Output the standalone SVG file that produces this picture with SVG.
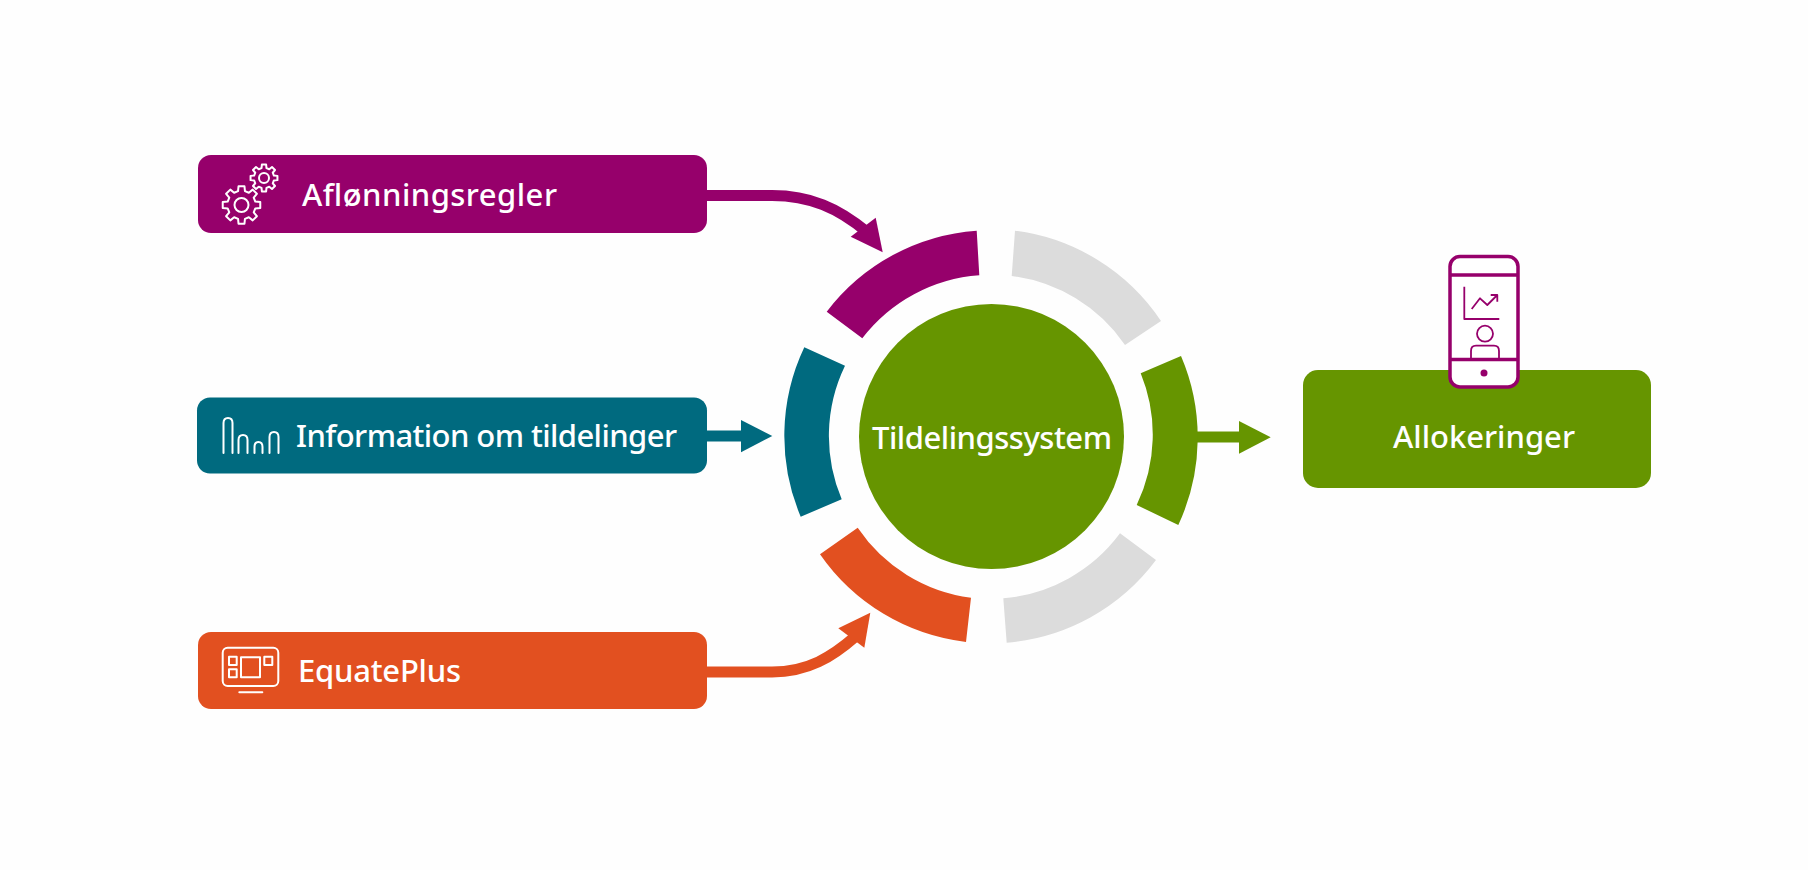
<svg xmlns="http://www.w3.org/2000/svg" width="1808" height="870" viewBox="0 0 1808 870">
<style>
.lbl{font-family:"Noto Sans","Open Sans","Liberation Sans",sans-serif;font-size:31px;font-weight:500;fill:#fff}
.ico{fill:none;stroke:#fff;stroke-width:2;stroke-linejoin:round;stroke-linecap:round}
.gear{vector-effect:non-scaling-stroke}
.ph{fill:none;stroke:#96006b;stroke-width:1.800;stroke-linejoin:round}
.pur{fill:#96006b}.tea{fill:#006a7f}.ora{fill:#e25020}.grn{fill:#669500}.gry{fill:#dcdcdc}
.shaft{fill:none;stroke-width:11}
</style>
<defs>
<path id="g" class="ico gear" d="M14.55 -3.63L19.75 -3.13L19.75 3.13L14.55 3.63L12.86 7.73L16.18 11.76L11.76 16.18L7.73 12.86L3.63 14.55L3.13 19.75L-3.13 19.75L-3.63 14.55L-7.73 12.86L-11.76 16.18L-16.18 11.76L-12.86 7.73L-14.55 3.63L-19.75 3.13L-19.75 -3.13L-14.55 -3.63L-12.86 -7.73L-16.18 -11.76L-11.76 -16.18L-7.73 -12.86L-3.63 -14.55L-3.13 -19.75L3.13 -19.75L3.63 -14.55L7.73 -12.86L11.76 -16.18L16.18 -11.76L12.86 -7.73Z"/>
</defs>
<rect width="1808" height="870" fill="#fefefe"/>
<g id="connectors">
<path class="shaft" stroke="#96006b" d="M700 195.500H772C810 195.500 838 208 867 232"/>
<polygon class="pur" points="882.700,252.300 875.700,217.700 850.700,236.700"/>
<path class="shaft" stroke="#006a7f" d="M700 436H745"/>
<polygon class="tea" points="772.300,436 741,420 741,452.300"/>
<path class="shaft" stroke="#e25020" d="M700 672H772C808 672 832 657 856 636"/>
<polygon class="ora" points="870.300,612.700 838.300,628.300 864.300,647.700"/>
<path class="shaft" stroke="#669500" d="M1190 437H1243"/>
<polygon class="grn" points="1270.700,437.300 1239,421 1239,453.700"/>
</g>
<g id="ring">
<path class="pur" d="M976.700 230.700A207 207 0 0 0 826.700 311.700L862.300 338.300A162 162 0 0 1 979.300 275.300Z"/>
<path class="gry" d="M1015 230.700A207 207 0 0 1 1161 321L1125 345A162 162 0 0 0 1011.700 276Z"/>
<path class="grn" d="M1181 356A207 207 0 0 1 1178.300 525L1136.700 505A162 162 0 0 0 1140.700 373.300Z"/>
<path class="gry" d="M1156 560A207 207 0 0 1 1006.700 642.700L1003.300 598.300A162 162 0 0 0 1120 533.300Z"/>
<path class="ora" d="M966 642A207 207 0 0 1 820 554.300L857.700 527.700A162 162 0 0 0 971 597.700Z"/>
<path class="tea" d="M804.300 347.300A207 207 0 0 0 800.700 516.700L841.700 499.300A162 162 0 0 1 845 365.700Z"/>
</g>
<g id="node-afl">
<rect class="pur" x="198" y="155" width="509" height="78" rx="13"/>
<use href="#g" transform="translate(241.500 205) scale(0.95)"/>
<circle class="ico" cx="241.500" cy="205" r="7"/>
<use href="#g" transform="translate(264 178) scale(0.68)"/>
<circle class="ico" cx="264" cy="178" r="5"/>
<text class="lbl" x="302" y="205.500" textLength="255">Aflønningsregler</text>
</g>
<g id="node-info">
<rect class="tea" x="197" y="397.500" width="510" height="76" rx="13"/>
<path class="ico" d="M223.500 453V423Q223.500 418 228 418Q232.500 418 232.500 423V453M238.500 453V440Q238.500 435 243 435Q247.500 435 247.500 440V453M254.500 453V447Q254.500 442 258.500 442Q262.500 442 262.500 447V453M269.500 453V437Q269.500 432 274 432Q278.500 432 278.500 437V453"/>
<text class="lbl" x="296" y="447" textLength="381">Information om tildelinger</text>
</g>
<g id="node-eq">
<rect class="ora" x="198" y="632" width="509" height="77" rx="13"/>
<rect class="ico" x="222.700" y="647.700" width="55.600" height="38.300" rx="5"/>
<rect class="ico" x="229" y="656.700" width="7.700" height="8.300"/>
<rect class="ico" x="229" y="669.300" width="7.700" height="8"/>
<rect class="ico" x="241" y="657.300" width="19" height="20"/>
<rect class="ico" x="264.300" y="656.700" width="8" height="8.300"/>
<path class="ico" d="M239.300 692.300H262.300"/>
<text class="lbl" x="298" y="681.500" textLength="163">EquatePlus</text>
</g>
<g id="node-center">
<circle class="grn" cx="991.500" cy="436.500" r="132.500"/>
<text class="lbl" x="872" y="449" textLength="240">Tildelingssystem</text>
</g>
<g id="node-alloc">
<rect class="grn" x="1303" y="370" width="348" height="118" rx="15"/>
<text class="lbl" x="1393" y="448" textLength="182">Allokeringer</text>
<rect x="1450" y="256.500" width="68" height="130.500" rx="10" fill="#fff" stroke="#96006b" stroke-width="3.500"/>
<path d="M1450 275H1518M1450 359.500H1518" fill="none" stroke="#96006b" stroke-width="3.500"/>
<path class="ph" d="M1464.300 286.700V319H1499.300M1471.700 309L1480 298.300L1487.300 305L1497.300 295M1490.700 295H1497.300V301.700"/>
<circle class="ph" cx="1485" cy="333.700" r="8"/>
<path class="ph" d="M1471 358V351Q1471 345.700 1476 345.700H1494Q1499 345.700 1499 351V358"/>
<circle cx="1484" cy="373" r="3.500" fill="#96006b"/>
</g>
</svg>
